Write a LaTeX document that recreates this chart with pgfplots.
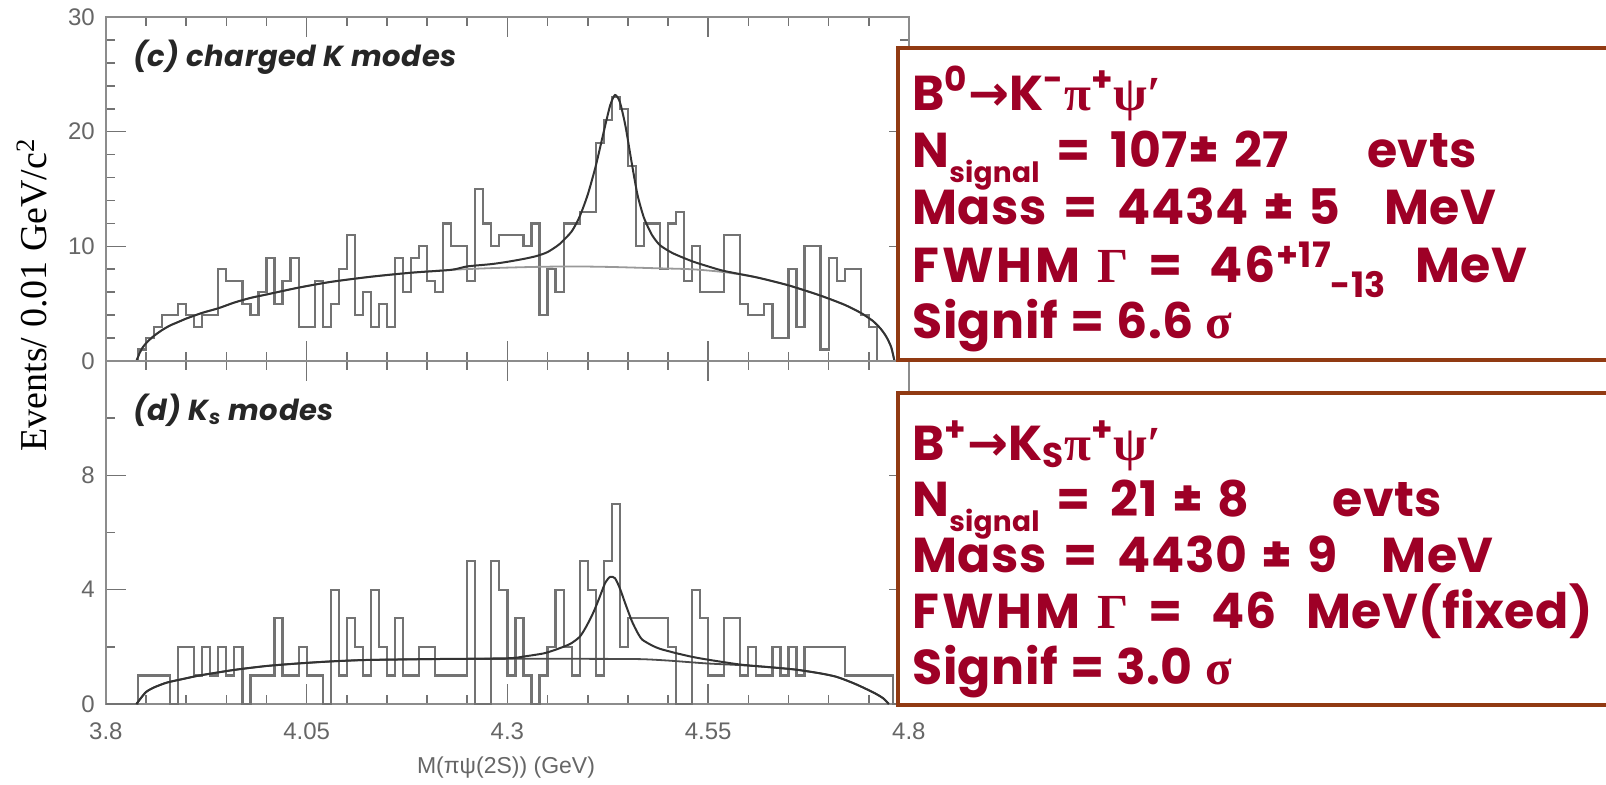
\documentclass[border=0pt]{standalone}
\usepackage{pgfplots}
\pgfplotsset{compat=1.18}
\usepackage{fontspec}
\setmainfont{Liberation Sans}
\newfontfamily\boxfont{Poppins}[LetterSpace=1]
\newfontfamily\grk{Liberation Serif}
\newfontfamily\symf{DejaVu Sans}
\newfontfamily\serif{Liberation Serif}
\newfontfamily\panelf{Poppins}[LetterSpace=2]
\definecolor{boxbrown}{RGB}{145,58,18}
\definecolor{boxtext}{RGB}{158,0,38}
\newcommand{\sgn}{\raisebox{-0.32em}{\fontsize{14}{14}\selectfont signal}}
\newcommand{\sps}[1]{\raisebox{0.3em}{\fontsize{17.5}{17.5}\selectfont #1}}
\newcommand{\sbs}[1]{\raisebox{-0.32em}{\fontsize{17.5}{17.5}\selectfont #1}}

\pgfplotstableread{
x y
3.80 0
3.81 0
3.82 0
3.83 0
3.84 1
3.85 2
3.86 3
3.87 4
3.88 4
3.89 5
3.90 4
3.91 3
3.92 4
3.93 4
3.94 8
3.95 7
3.96 7
3.97 5
3.98 4
3.99 6
4.00 9
4.01 5
4.02 7
4.03 9
4.04 3
4.05 3
4.06 7
4.07 3
4.08 5
4.09 8
4.10 11
4.11 4
4.12 6
4.13 3
4.14 5
4.15 3
4.16 9
4.17 6
4.18 9
4.19 10
4.20 7
4.21 6
4.22 12
4.23 10
4.24 10
4.25 7
4.26 15
4.27 12
4.28 10
4.29 11
4.30 11
4.31 11
4.32 10
4.33 12
4.34 4
4.35 8
4.36 6
4.37 12
4.38 12
4.39 13
4.40 13
4.41 19
4.42 21
4.43 23
4.44 22
4.45 17
4.46 10
4.47 12
4.48 12
4.49 8
4.50 12
4.51 13
4.52 7
4.53 10
4.54 6
4.55 6
4.56 6
4.57 11
4.58 11
4.59 5
4.60 4
4.61 4
4.62 5
4.63 2
4.64 2
4.65 8
4.66 3
4.67 10
4.68 10
4.69 1
4.70 9
4.71 7
4.72 8
4.73 8
4.74 4
4.75 3
4.76 0
4.77 0
4.78 0
4.79 0
4.80 0
}\histtop

\pgfplotstableread{
x y
3.80 0
3.81 0
3.82 0
3.83 0
3.84 1
3.85 1
3.86 1
3.87 1
3.88 0
3.89 2
3.90 2
3.91 1
3.92 2
3.93 1
3.94 2
3.95 1
3.96 2
3.97 0
3.98 1
3.99 1
4.00 1
4.01 3
4.02 1
4.03 1
4.04 2
4.05 1
4.06 1
4.07 0
4.08 4
4.09 1
4.10 3
4.11 2
4.12 1
4.13 4
4.14 2
4.15 1
4.16 3
4.17 1
4.18 1
4.19 2
4.20 2
4.21 1
4.22 1
4.23 1
4.24 1
4.25 5
4.26 0
4.27 0
4.28 5
4.29 4
4.30 1
4.31 3
4.32 1
4.33 0
4.34 1
4.35 2
4.36 4
4.37 2
4.38 1
4.39 5
4.40 4
4.41 1
4.42 5
4.43 7
4.44 2
4.45 3
4.46 3
4.47 3
4.48 3
4.49 3
4.50 2
4.51 0
4.52 0
4.53 4
4.54 3
4.55 1
4.56 1
4.57 3
4.58 3
4.59 1
4.60 2
4.61 1
4.62 1
4.63 2
4.64 1
4.65 2
4.66 1
4.67 2
4.68 2
4.69 2
4.70 2
4.71 2
4.72 1
4.73 1
4.74 1
4.75 1
4.76 1
4.77 1
4.78 0
4.79 0
4.80 0
}\histbot

\pgfplotstableread{
x y
3.838 0
3.842 0.7
3.846 1.2
3.852 1.7
3.86 2.2
3.87 2.7
3.88 3.1
3.89 3.4
3.90 3.7
3.92 4.2
3.94 4.6
3.96 5.1
3.98 5.5
4.00 5.8
4.04 6.4
4.08 6.9
4.13 7.35
4.18 7.7
4.23 7.95
4.28 8.1
4.33 8.2
4.38 8.25
4.43 8.2
4.48 8.1
4.53 8.0
4.57 7.75
4.61 7.3
4.65 6.6
4.69 5.7
4.72 4.9
4.74 4.2
4.755 3.5
4.765 2.8
4.772 2.1
4.778 1.2
4.782 0
}\bgtop

\pgfplotstableread{
x y
3.838 0
3.842 0.7
3.846 1.2
3.852 1.7
3.86 2.2
3.87 2.7
3.88 3.1
3.89 3.4
3.90 3.7
3.92 4.2
3.94 4.6
3.96 5.1
3.98 5.5
4.00 5.8
4.04 6.4
4.08 6.9
4.13 7.35
4.18 7.7
4.23 7.95
4.25 8.25
4.28 8.45
4.30 8.65
4.32 8.9
4.336 9.15
4.35 9.5
4.365 10.2
4.38 11.3
4.39 12.6
4.40 14.5
4.41 17.0
4.42 20.0
4.428 22.3
4.434 23.2
4.44 22.6
4.447 20.5
4.455 17.2
4.462 14.5
4.47 12.5
4.48 11.0
4.49 10.1
4.506 9.4
4.53 8.7
4.55 8.25
4.57 7.85
4.61 7.3
4.65 6.6
4.69 5.7
4.72 4.9
4.74 4.2
4.755 3.5
4.765 2.8
4.772 2.1
4.778 1.2
4.782 0
}\tottop

\pgfplotstableread{
x y
3.838 0
3.842 0.15
3.85 0.42
3.86 0.58
3.876 0.75
3.90 0.9
3.917 1.0
3.959 1.19
4.00 1.33
4.04 1.42
4.08 1.49
4.124 1.54
4.20 1.57
4.30 1.58
4.40 1.58
4.465 1.57
4.50 1.52
4.548 1.42
4.59 1.36
4.63 1.28
4.66 1.2
4.69 1.07
4.71 0.95
4.73 0.74
4.745 0.55
4.758 0.37
4.768 0.2
4.775 0
}\bgbot

\pgfplotstableread{
x y
3.838 0
3.842 0.15
3.85 0.42
3.86 0.58
3.876 0.75
3.90 0.9
3.917 1.0
3.959 1.19
4.00 1.33
4.04 1.42
4.08 1.49
4.124 1.54
4.20 1.57
4.30 1.6
4.32 1.66
4.345 1.77
4.36 1.9
4.378 2.1
4.39 2.35
4.398 2.7
4.407 3.2
4.415 3.75
4.422 4.25
4.428 4.45
4.434 4.4
4.44 4.05
4.447 3.5
4.455 2.9
4.462 2.5
4.468 2.25
4.48 2.05
4.49 1.93
4.51 1.78
4.53 1.65
4.55 1.55
4.59 1.38
4.63 1.28
4.66 1.2
4.69 1.07
4.71 0.95
4.73 0.74
4.745 0.55
4.758 0.37
4.768 0.2
4.775 0
}\totbot

\pgfplotsset{
  panel/.style={
    scale only axis,
    width=401.5pt,
    xmin=3.8, xmax=4.8,
    axis line style={black!45, line width=1.3pt},
    tick style={black!55, line width=0.8pt},
    major tick length=10pt,
    minor tick length=4.5pt,
    tick align=inside,
    xtick pos=both, ytick pos=both,
    xtick={3.8,4.05,4.3,4.55,4.8},
    minor xtick={3.85,3.9,3.95,4.0,4.1,4.15,4.2,4.25,4.35,4.4,4.45,4.5,4.6,4.65,4.7,4.75},
    /pgf/number format/assume math mode=true,
    tick label style={font=\fontsize{12}{12}\selectfont, text=black!60},
    yticklabel style={xshift=-2pt},
    xticklabel style={yshift=-6pt},
    clip=true,
  },
  hist/.style={const plot, black!55, line width=1.1pt},
  bgc/.style={smooth, tension=0.4, black!40, line width=0.9pt},
  totc/.style={smooth, tension=0.4, black!80, line width=1pt},
}

\begin{document}
\begin{tikzpicture}
\useasboundingbox (0,0) rectangle (803pt,392pt);

\begin{axis}[panel, at={(52.95pt,211.5pt)}, anchor=south west, height=172pt,
  ymin=0, ymax=30, ytick={0,10,20,30},
  minor ytick={2,4,6,8,12,14,16,18,22,24,26,28},
  xticklabels={}]
\addplot[hist] table[x=x,y=y] {\histtop};
\addplot[bgc] table[x=x,y=y] {\bgtop};
\addplot[totc] table[x=x,y=y] {\tottop};
\end{axis}

\begin{axis}[panel, at={(52.95pt,40pt)}, anchor=south west, height=171.5pt,
  ymin=0, ymax=12, ytick={0,4,8}, minor ytick={2,6,10},
  xticklabels={3.8,4.05,4.3,4.55,4.8}]
\addplot[hist] table[x=x,y=y] {\histbot};
\addplot[bgc, black!70] table[x=x,y=y] {\bgbot};
\addplot[totc] table[x=x,y=y] {\totbot};
\end{axis}

% panel labels
\node[anchor=base west, text=black!85, font=\panelf\bfseries\itshape\fontsize{14.5}{14.5}\selectfont] at (63pt,359pt) {(c) charged K modes};
\node[anchor=base west, text=black!85, font=\panelf\bfseries\itshape\fontsize{14.5}{14.5}\selectfont] at (63pt,182pt) {(d) K\textsubscript{s} modes};

% axis labels
\node[rotate=90, font=\serif\fontsize{19}{19}\selectfont] at (16pt,244.5pt) {Events/ 0.01 GeV/c\textsuperscript{2}};
\node[text=black!60, font=\fontsize{11.5}{11.5}\selectfont] at (253pt,8pt) {M(πψ(2S)) (GeV)};

% text boxes
\draw[boxbrown, line width=2pt, fill=white] (449pt,212pt) rectangle (815pt,368pt);
\draw[boxbrown, line width=2pt, fill=white] (449pt,39.5pt) rectangle (815pt,195.5pt);

\begin{scope}[every node/.style={anchor=base west, text=boxtext, inner sep=0pt, font=\boxfont\bfseries\fontsize{24.5}{24.5}\selectfont}]
\node at (456pt,337pt) {B\textsuperscript{0}{\symf\bfseries →}K\textsuperscript{-}{\grk\bfseries π}\textsuperscript{+}{\grk\bfseries ψ′}};
\node at (456pt,308.5pt) {N\sgn\hspace{0.35em}=\hspace{0.4em}107±\hspace{0.3em}27\hspace{1.6em}evts};
\node at (456pt,280pt) {Mass\hspace{0.35em}=\hspace{0.4em}4434\hspace{0.3em}±\hspace{0.3em}5\hspace{0.9em}MeV};
\node at (456pt,251pt) {{\addfontfeature{LetterSpace=6}FWHM}\hspace{0.35em}{\grk\bfseries Γ}\hspace{0.4em}=\hspace{0.55em}{\addfontfeature{LetterSpace=5}46}\sps{+17}\sbs{-13}\hspace{0.6em}MeV};
\node at (456pt,223pt) {Signif\hspace{0.25em}=\hspace{0.25em}6.6\hspace{0.25em}{\grk\bfseries σ}};

\node at (456pt,162pt) {B\textsuperscript{+}{\symf\bfseries →}K\textsubscript{S}{\grk\bfseries π}\textsuperscript{+}{\grk\bfseries ψ′}};
\node at (456pt,134pt) {N\sgn\hspace{0.35em}=\hspace{0.4em}21\hspace{0.3em}±\hspace{0.3em}8\hspace{1.7em}evts};
\node at (456pt,106pt) {Mass\hspace{0.35em}=\hspace{0.4em}4430\hspace{0.3em}±\hspace{0.3em}9\hspace{0.9em}MeV};
\node at (456pt,78pt) {{\addfontfeature{LetterSpace=6}FWHM}\hspace{0.35em}{\grk\bfseries Γ}\hspace{0.4em}=\hspace{0.6em}46\hspace{0.6em}MeV(fixed)};
\node at (456pt,50pt) {Signif\hspace{0.25em}=\hspace{0.25em}3.0\hspace{0.25em}{\grk\bfseries σ}};
\end{scope}
\end{tikzpicture}
\end{document}
